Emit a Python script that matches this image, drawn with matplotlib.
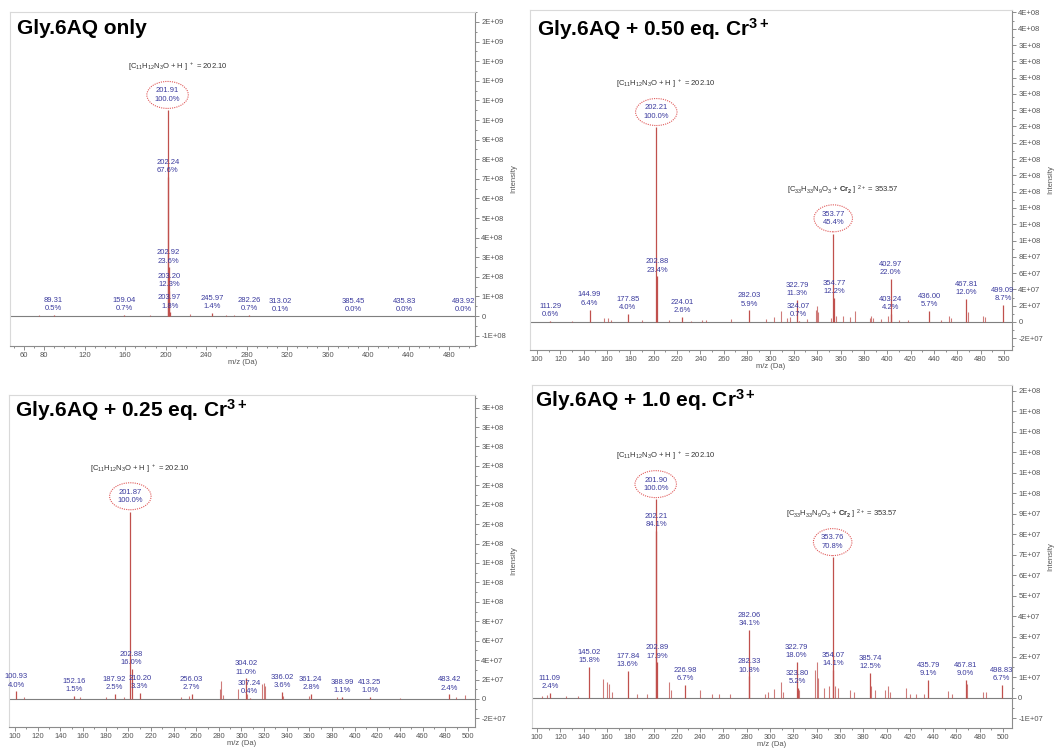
import numpy as np
import matplotlib
matplotlib.use("Agg")
import matplotlib.pyplot as plt
from matplotlib.ticker import FixedLocator, MultipleLocator, FuncFormatter

plt.rcParams['font.family'] = ['Liberation Sans', 'DejaVu Sans']
plt.rcParams['mathtext.fontset'] = 'custom'
plt.rcParams['mathtext.rm'] = 'Liberation Sans'
plt.rcParams['mathtext.it'] = 'Liberation Sans:italic'
plt.rcParams['mathtext.bf'] = 'Liberation Sans:bold'

# ---------------- spectra (m/z, relative intensity in %) ----------------
titles = [
    "Gly.6AQ only",
    r"Gly.6AQ + 0.50 eq. Cr$^{\mathbf{3+}}$",
    r"Gly.6AQ + 0.25 eq. Cr$^{\mathbf{3+}}$",
    r"Gly.6AQ + 1.0 eq. Cr$^{\mathbf{3+}}$",
]

formula_monomer = r"[C$_{11}$H$_{12}$N$_3$O + H ] $^+$ = 202.10"
formula_dimer = r"[C$_{33}$H$_{33}$N$_9$O$_3$ + $\mathbf{Cr_2}$ ] $^{2+}$ = 353.57"

# Gly.6AQ only
p1_mz = [89.31, 159.04, 201.91, 202.24, 202.92, 203.20, 203.97, 245.97, 282.26,
         313.02, 385.45, 435.83, 493.92]
p1_pct = [0.5, 0.7, 100.0, 67.6, 23.6, 12.3, 1.8, 1.4, 0.7, 0.1, 0.0, 0.0, 0.0]
p1_minor_mz = [75, 120, 141, 185, 224, 260, 268, 300]
p1_minor_pct = [0.3, 0.2, 0.2, 0.3, 1.0, 0.3, 0.3, 0.2]
p1_base = 1.05e9

# + 0.50 eq. Cr3+
p2_mz = [111.29, 144.99, 177.85, 202.21, 202.88, 224.01, 282.03, 322.79, 324.07,
         353.77, 354.77, 402.97, 403.24, 436.00, 467.81, 499.09]
p2_pct = [0.6, 6.4, 4.0, 100.0, 23.4, 2.6, 5.9, 11.3, 0.7, 45.4, 12.2, 22.0, 4.2,
          5.7, 12.0, 8.7]
p2_minor_mz = [130, 157, 161, 163, 190, 213, 232, 241, 245, 266, 296, 303, 309,
               314, 317, 331, 339, 340, 341, 352, 356, 362, 368, 372, 385, 386,
               388, 395, 401, 410, 418, 446, 453, 455, 469, 482, 484]
p2_minor_pct = [0.5, 2.2, 1.9, 1.0, 0.8, 0.8, 0.6, 1.0, 0.8, 1.5, 1.5, 2.5, 5.6,
                2.0, 2.7, 1.5, 6.0, 8.2, 5.0, 2.0, 3.0, 3.0, 2.5, 5.6, 2.0, 3.0,
                2.0, 1.5, 3.0, 1.0, 1.0, 1.0, 3.0, 2.0, 5.0, 3.0, 2.5]
p2_base = 2.39e8

# + 0.25 eq. Cr3+
p3_mz = [100.93, 152.16, 187.92, 201.87, 202.88, 210.20, 256.03, 304.02, 307.24,
         336.02, 361.24, 388.99, 413.25, 483.42]
p3_pct = [4.0, 1.5, 2.5, 100.0, 16.0, 3.3, 2.7, 11.0, 0.4, 3.6, 2.8, 1.1, 1.0, 2.4]
p3_minor_mz = [108, 157, 180, 196, 247, 254, 281, 282, 284, 297, 305, 318, 320,
               321, 337, 360, 384, 440, 489, 497]
p3_minor_pct = [1.0, 1.0, 1.0, 1.0, 1.0, 1.5, 5.3, 9.5, 2.0, 5.3, 2.5, 8.0, 8.5,
                7.0, 1.5, 1.5, 1.0, 0.5, 0.8, 2.0]
p3_base = 1.93e8

# + 1.0 eq. Cr3+
p4_mz = [111.09, 145.02, 177.84, 201.90, 202.21, 202.89, 226.98, 282.06, 282.33,
         322.79, 323.80, 353.76, 354.07, 385.74, 435.79, 467.81, 498.83]
p4_pct = [2.4, 15.8, 13.6, 100.0, 84.1, 17.9, 6.7, 34.1, 10.8, 18.0, 5.2, 70.8,
          14.1, 12.5, 9.1, 9.0, 6.7]
p4_minor_mz = [104, 109, 125, 135, 157, 160, 162, 164, 186, 194, 213, 215, 240,
               250, 256, 266, 296, 298, 303, 309, 311, 325, 339, 340, 341, 346,
               351, 356, 358, 369, 372, 387, 390, 399, 401, 403, 417, 420, 425,
               432, 453, 456, 469, 483, 485]
p4_minor_pct = [1.0, 1.7, 1.0, 1.0, 9.4, 8.0, 7.0, 3.0, 2.0, 2.0, 8.0, 4.0, 4.2,
                2.0, 2.0, 2.0, 2.0, 3.0, 4.5, 8.0, 3.0, 4.0, 14.0, 18.0, 10.0, 5.0,
                6.0, 6.0, 5.0, 4.0, 3.0, 6.0, 4.0, 4.0, 6.0, 3.0, 5.0, 2.0, 2.0,
                2.0, 3.5, 2.0, 7.0, 3.0, 3.0]
p4_base = 9.7e7

p1_xticks = [60, 80, 120, 160, 200, 240, 280, 320, 360, 400, 440, 480]
cr_xticks = list(range(100, 501, 20))

# ---------------- figure ----------------
W, H = 1059, 749
fig = plt.figure(figsize=(W / 100, H / 100), dpi=100)


def box(l, t, r, b):
    return [l / W, 1 - b / H, (r - l) / W, (b - t) / H]


PEAK = '#c0504d'
LABEL = '#3b3b9e'
AXIS = '#8c8c8c'
FS = 5.5


def sci_fmt(v, pos):
    if abs(v) < 1:
        return '0'
    return f'{v:.0E}'


def draw_panel(rect, xlim, ylim, ystep, base, mz, pct, minor_mz, minor_pct,
               circled, formulas, xticks):
    ax = fig.add_axes(rect)
    ax.set_xlim(*xlim)
    ax.set_ylim(*ylim)
    ax.axhline(0, color='#7f7f7f', lw=0.8, zorder=1)
    ax.vlines(minor_mz, 0, np.asarray(minor_pct) / 100 * base, color=PEAK,
              lw=0.8, alpha=0.75, zorder=2)
    ax.vlines(mz, 0, np.asarray(pct) / 100 * base, color=PEAK, lw=0.9, zorder=3)

    for m, p in zip(mz, pct):
        y = p / 100 * base
        txt = f'{m:.2f}\n{p:.1f}%'
        if m in circled:
            ax.annotate(txt, (m, y), xytext=(0, 5.5), textcoords='offset points',
                        ha='center', va='bottom', fontsize=FS, color=LABEL,
                        linespacing=1.25, annotation_clip=False,
                        bbox=dict(boxstyle='ellipse,pad=0.25', fc='none',
                                  ec='#e05a5a', ls=(0, (1, 1)), lw=0.8))
        else:
            ax.annotate(txt, (m, y), xytext=(0, 2), textcoords='offset points',
                        ha='center', va='bottom', fontsize=FS, color=LABEL,
                        linespacing=1.25, annotation_clip=False, zorder=4)

    for m, text in formulas:
        y = pct[mz.index(m)] / 100 * base
        ax.annotate(text, (m, y), xytext=(7, 31), textcoords='offset points',
                    ha='center', va='center', fontsize=FS, color='#333333')

    # axes styling
    for s in ('left', 'top'):
        ax.spines[s].set_color('#d9d9d9')
    for s in ('right', 'bottom'):
        ax.spines[s].set_color(AXIS)
    for s in ax.spines.values():
        s.set_linewidth(0.8)

    k0 = int(np.ceil(ylim[0] / ystep))
    k1 = int(np.floor(ylim[1] / ystep))
    ax.yaxis.set_major_locator(FixedLocator([k * ystep for k in range(k0, k1 + 1)]))
    ax.yaxis.set_minor_locator(MultipleLocator(ystep / 2))
    ax.yaxis.set_major_formatter(FuncFormatter(sci_fmt))
    ax.yaxis.tick_right()
    ax.yaxis.set_label_position('right')
    ax.set_ylabel('Intensity', fontsize=FS, color='#555555', labelpad=3)

    ax.xaxis.set_major_locator(FixedLocator(xticks))
    ax.xaxis.set_minor_locator(MultipleLocator(10))
    ax.set_xlabel('m/z (Da)', fontsize=FS, color='#555555', labelpad=-0.5)

    ax.tick_params(axis='both', which='both', direction='out', colors=AXIS,
                   labelcolor='#555555', labelsize=FS, pad=1.5, width=0.7)
    ax.tick_params(axis='both', which='major', length=3)
    ax.tick_params(axis='both', which='minor', length=1.5)
    return ax


draw_panel(box(10, 12, 475, 346), (46.2, 505.7), (-1.53e8, 1.551e9), 1e8,
           p1_base, p1_mz, p1_pct, p1_minor_mz, p1_minor_pct,
           [201.91], [(201.91, formula_monomer)], p1_xticks)

draw_panel(box(530, 10, 1012, 350), (94.0, 506.9), (-3.44e7, 3.83e8), 2e7,
           p2_base, p2_mz, p2_pct, p2_minor_mz, p2_minor_pct,
           [202.21, 353.77],
           [(202.21, formula_monomer), (353.77, formula_dimer)], cr_xticks)

draw_panel(box(9, 395, 475, 727), (94.7, 506.2), (-2.89e7, 3.13e8), 2e7,
           p3_base, p3_mz, p3_pct, p3_minor_mz, p3_minor_pct,
           [201.87], [(201.87, formula_monomer)], cr_xticks)

draw_panel(box(532, 385, 1012, 728), (95.7, 507.7), (-1.47e7, 1.529e8), 1e7,
           p4_base, p4_mz, p4_pct, p4_minor_mz, p4_minor_pct,
           [201.90, 353.76],
           [(201.90, formula_monomer), (353.76, formula_dimer)], cr_xticks)

title_pos = [(17, 34), (537, 36), (15, 417), (535, 407)]
for (tx, ty), t in zip(title_pos, titles):
    fig.text(tx / W, 1 - ty / H, t, fontsize=15, fontweight='bold',
             ha='left', va='baseline', color='black')

fig.savefig('out.png', dpi=100, facecolor='white')
